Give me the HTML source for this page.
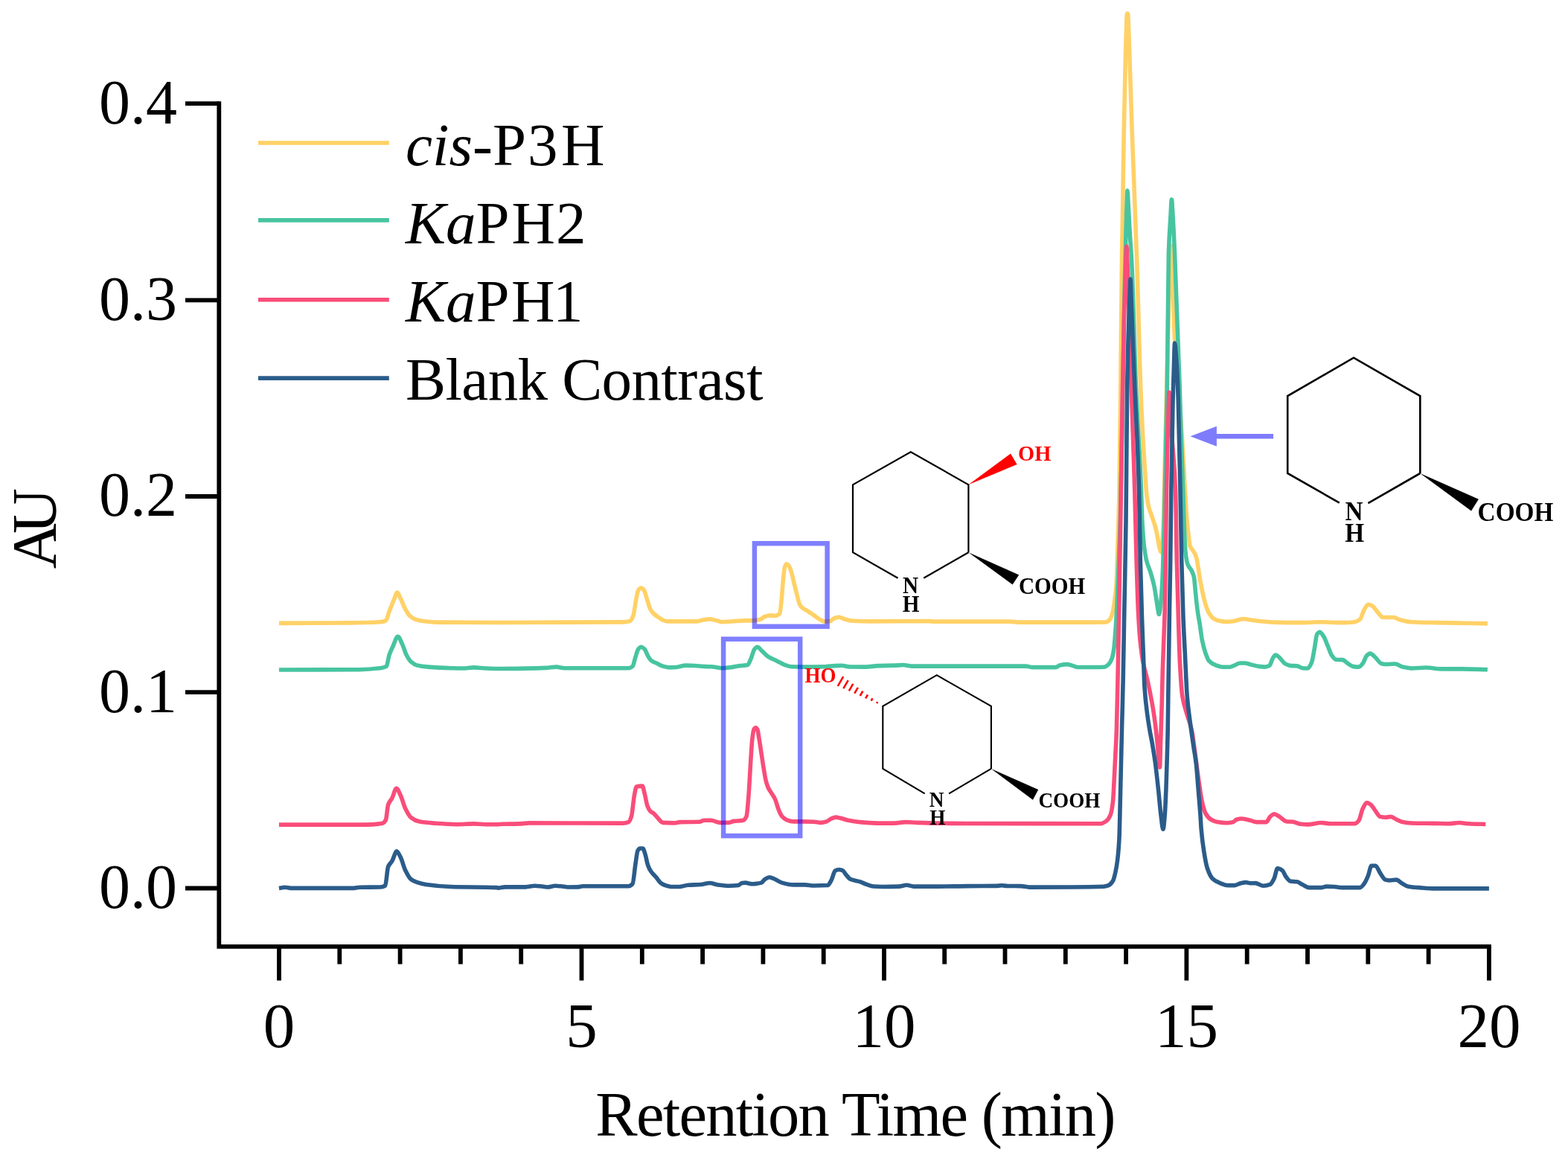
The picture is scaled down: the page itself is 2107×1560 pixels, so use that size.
<!DOCTYPE html>
<html lang="en"><head><meta charset="utf-8"><title>HPLC chromatogram</title>
<style>html,body{margin:0;padding:0;background:#fff}svg{display:block}text{font-family:"Liberation Serif","DejaVu Serif",serif;fill:#000}.b{font-weight:bold}.i{font-style:italic}</style></head><body>
<svg width="2107" height="1560" viewBox="0 0 2107 1560">
<rect width="2107" height="1560" fill="#fff"/>
<g fill="none" stroke-width="5.6" stroke-linejoin="round" stroke-linecap="butt">
<path stroke="#FFD166" d="M374.92 837.38C405.85 837.23 436.77 837.21 467.69 836.92C482.05 836.79 496.41 836.59 510.77 835.69C513.33 835.53 515.9 835.06 518.46 833.85C520 833.12 521.54 825.51 523.08 821.54C525.13 816.24 527.18 810.9 529.23 806.15C530.77 802.59 532.31 796.15 533.85 796.15C535.38 796.15 536.92 801.52 538.46 804.62C540.51 808.74 542.56 814.77 544.62 818.46C546.67 822.15 548.72 825.91 550.77 827.69C553.33 829.93 555.9 831.53 558.46 832.31C563.08 833.7 567.69 834.46 572.31 834.92C578.46 835.54 584.62 836.1 590.77 836.15C616.41 836.39 642.05 836.46 667.69 836.46C670.26 836.46 672.82 836.46 675.38 836.46C729.23 836.46 783.08 836.4 836.92 835.85C840 835.81 843.08 835.45 846.15 834.62C847.69 834.2 849.23 831.4 850.77 827.69C852.05 824.6 853.33 812.32 854.62 806.15C855.64 801.22 856.67 794.49 857.69 793.08C858.97 791.31 860.26 790 861.54 790C862.82 790 864.1 791.46 865.38 793.08C866.67 794.7 867.95 800.77 869.23 804.62C870.77 809.23 872.31 815.62 873.85 818.46C875.38 821.3 876.92 823.12 878.46 824.62C880.51 826.61 882.56 827.83 884.62 829.23C886.67 830.63 888.72 832.25 890.77 833.08C892.82 833.91 894.87 834.92 896.92 834.92C910.26 834.92 923.59 834.92 936.92 834.92C939.49 834.92 942.05 833.52 944.62 833.08C947.69 832.54 950.77 831.85 953.85 831.85C955.38 831.85 956.92 832.3 958.46 832.62C960 832.93 961.54 833.46 963.08 833.85C965.64 834.5 968.21 835.69 970.77 835.69C974.87 835.69 978.97 835.17 983.08 834.92C989.23 834.55 995.38 833.85 1001.54 833.85C1004.62 833.85 1007.69 833.85 1010.77 833.85C1014.36 833.85 1017.95 833.19 1021.54 832.31C1023.59 831.8 1025.64 829.1 1027.69 828.46C1030.26 827.67 1032.82 826.92 1035.38 826.92C1037.44 826.92 1039.49 827.38 1041.54 827.38C1043.59 827.38 1045.64 826.62 1047.69 824.62C1048.46 823.86 1049.23 814.69 1050 807.69C1050.77 800.69 1051.54 787.38 1052.31 780C1053.08 772.62 1053.85 763.66 1054.62 761.54C1055.38 759.42 1056.15 757.69 1056.92 757.69C1057.95 757.69 1058.97 758.82 1060 760C1061.03 761.18 1062.05 764.56 1063.08 767.69C1064.36 771.6 1065.64 777.95 1066.92 783.08C1068.21 788.21 1069.49 793.6 1070.77 798.46C1072.05 803.32 1073.33 810 1074.62 812.31C1075.9 814.62 1077.18 815.86 1078.46 816.92C1081.03 819.05 1083.59 819.88 1086.15 821.54C1088.72 823.2 1091.28 825.13 1093.85 826.92C1096.41 828.72 1098.97 830.91 1101.54 832.31C1103.59 833.42 1105.64 835.08 1107.69 835.08C1110.26 835.08 1112.82 834.91 1115.38 834.62C1117.44 834.38 1119.49 831.09 1121.54 830.46C1123.59 829.83 1125.64 829.23 1127.69 829.23C1129.74 829.23 1131.79 830.95 1133.85 831.54C1137.95 832.73 1142.05 834.11 1146.15 834.31C1154.36 834.71 1162.56 834.92 1170.77 834.92C1196.41 834.92 1222.05 834.62 1247.69 834.62C1250.26 834.62 1252.82 835.08 1255.38 835.08C1288.72 835.08 1322.05 835.08 1355.38 835.08C1360.51 835.08 1365.64 836.15 1370.77 836.15C1404.1 836.15 1437.44 836.15 1470.77 836.15C1475.85 836.15 1480.92 836.12 1486 836C1487.6 835.96 1489.2 834.61 1490.8 833C1492.33 831.46 1493.87 827.24 1495.4 821.5C1496.47 817.5 1497.53 808.49 1498.6 800C1499.07 796.28 1499.53 793.36 1500 787C1500.57 779.28 1501.13 758.06 1501.7 740.8C1502.47 717.45 1503.23 697.69 1504 660C1504.6 630.51 1505.2 572.56 1505.8 520C1506.37 470.36 1506.93 394.56 1507.5 350C1508.4 279.24 1509.3 228.52 1510.2 180C1510.9 142.26 1511.6 108.1 1512.3 80C1512.73 62.61 1513.17 45.03 1513.6 34C1513.83 28.06 1514.07 20.41 1514.3 19.5C1514.53 18.59 1514.77 18 1515 18C1515.23 18 1515.47 18.59 1515.7 19.5C1515.93 20.41 1516.17 28.5 1516.4 34C1516.93 46.58 1517.47 64.31 1518 80C1519.1 112.36 1520.2 148.64 1521.3 180C1523.43 240.82 1525.57 285.08 1527.7 350C1529.13 393.62 1530.57 457.1 1532 500C1532.57 516.96 1533.13 532.87 1533.7 546C1534.47 563.77 1535.23 578.38 1536 592C1536.97 609.18 1537.93 624.06 1538.9 638C1539.6 648.1 1540.3 660.12 1541 666C1541.77 672.44 1542.53 676.77 1543.3 680C1545.2 687.99 1547.1 691.01 1549 697C1550.5 701.73 1552 705.72 1553.5 712C1554.43 715.91 1555.37 722.18 1556.3 727C1557.03 730.79 1557.77 735.85 1558.5 738C1559.13 739.86 1559.77 742 1560.4 742C1561 742 1561.6 732.98 1562.2 725C1562.73 717.91 1563.27 705.5 1563.8 690C1564.47 670.62 1565.13 628.35 1565.8 600C1566.8 557.48 1567.8 517.71 1568.8 480C1569.73 444.8 1570.67 401.75 1571.6 380C1572.57 357.47 1573.53 330 1574.5 330C1575 330 1575.5 364.14 1576 380C1576.83 406.43 1577.67 439.19 1578.5 455C1580.17 486.62 1581.83 497.53 1583.5 520C1585.17 542.47 1586.83 563.97 1588.5 590C1589.83 610.83 1591.17 637.44 1592.5 660C1593.2 671.84 1593.9 685.83 1594.6 694.6C1595.37 704.2 1596.13 711.37 1596.9 717.7C1597.67 724.02 1598.43 731.74 1599.2 733.8C1600.73 737.93 1602.27 738.01 1603.8 740.8C1605.17 743.29 1606.53 745.34 1607.9 750C1608.67 752.62 1609.43 759.15 1610.2 763.8C1611.13 769.46 1612.07 775.84 1613 781C1614.17 787.46 1615.33 793.36 1616.5 798.5C1617.67 803.64 1618.83 808.69 1620 812.3C1621.53 817.04 1623.07 821.27 1624.6 823.8C1626.53 826.99 1628.47 829.56 1630.4 830.8C1633.1 832.53 1635.8 833.66 1638.5 834.2C1641.57 834.82 1644.63 835.4 1647.7 835.4C1650.8 835.4 1653.9 835.13 1657 834.8C1659.27 834.56 1661.53 833.54 1663.8 833C1666.13 832.45 1668.47 831.5 1670.8 831.5C1673.87 831.5 1676.93 832.57 1680 833C1683.5 833.5 1687 833.95 1690.5 834.3C1697.71 835.04 1704.93 835.91 1712.14 836.11C1724.16 836.43 1736.19 836.65 1748.21 836.65C1757.23 836.65 1766.25 835.75 1775.26 835.75C1784.28 835.75 1793.3 836.65 1802.32 836.65C1808.33 836.65 1814.34 836.37 1820.35 835.75C1822.76 835.5 1825.16 834.18 1827.57 832.14C1829.37 830.61 1831.17 822.58 1832.98 819.52C1834.78 816.46 1836.58 812.3 1838.39 812.3C1840.19 812.3 1841.99 813.2 1843.8 814.11C1846.2 815.31 1848.61 819.68 1851.01 822.22C1853.42 824.77 1855.82 829.44 1858.22 829.44C1863.03 829.44 1867.84 829.44 1872.65 829.44C1875.66 829.44 1878.66 832.25 1881.67 833.04C1886.48 834.31 1891.29 835.49 1896.1 835.75C1906.92 836.33 1917.74 836.44 1928.56 836.65C1940.59 836.88 1952.61 836.98 1964.63 837.19C1976.05 837.39 1987.48 837.67 1998.9 837.91"/>
<path stroke="#47C4A0" d="M374.92 900C410.97 899.9 447.03 899.93 483.08 899.69C492.31 899.63 501.54 898.87 510.77 897.69C513.59 897.33 516.41 897 519.23 895.38C520.51 894.65 521.79 883.81 523.08 880C524.62 875.43 526.15 872.56 527.69 869.23C530 864.23 532.31 855.38 534.62 855.38C536.67 855.38 538.72 861.86 540.77 866.15C542.56 869.91 544.36 876.58 546.15 880C548.21 883.91 550.26 887.44 552.31 889.23C554.87 891.46 557.44 893.19 560 893.85C565.13 895.16 570.26 895.75 575.38 896.15C585.64 896.97 595.9 897.41 606.15 897.69C611.28 897.83 616.41 898 621.54 898C626.67 898 631.79 896.92 636.92 896.92C642.05 896.92 647.18 897.78 652.31 898C657.44 898.22 662.56 898.46 667.69 898.46C670.26 898.46 672.82 898.46 675.38 898.46C685.64 898.46 695.9 898.31 706.15 898.15C715.38 898.02 724.62 897.8 733.85 897.38C738.46 897.18 743.08 896.15 747.69 896.15C751.28 896.15 754.87 897.69 758.46 897.69C787.18 897.69 815.9 897.69 844.62 897.69C846.41 897.69 848.21 896.8 850 895.38C851.28 894.37 852.56 886.91 853.85 883.08C855.13 879.25 856.41 873.9 857.69 872.31C858.97 870.71 860.26 869.23 861.54 869.23C863.08 869.23 864.62 870.77 866.15 872.31C867.69 873.85 869.23 879.08 870.77 881.54C872.31 884 873.85 886.53 875.38 887.69C877.95 889.63 880.51 890.31 883.08 891.54C885.64 892.77 888.21 894.35 890.77 895.08C893.85 895.95 896.92 896.92 900 896.92C903.08 896.92 906.15 896.7 909.23 896.46C913.33 896.15 917.44 894.15 921.54 894.15C926.67 894.15 931.79 894.52 936.92 894.77C942.05 895.02 947.18 895.69 952.31 895.69C953.33 895.69 954.36 895.69 955.38 895.69C960.51 895.69 965.64 897.69 970.77 897.69C974.87 897.69 978.97 897.11 983.08 896.62C986.67 896.18 990.26 895.08 993.85 894.62C997.44 894.15 1001.03 894.31 1004.62 893.54C1006.15 893.21 1007.69 888.06 1009.23 884.62C1010.77 881.17 1012.31 874.17 1013.85 872.31C1015.13 870.76 1016.41 869.23 1017.69 869.23C1019.49 869.23 1021.28 872.26 1023.08 873.85C1026.15 876.56 1029.23 880.29 1032.31 882.31C1036.41 885 1040.51 886.41 1044.62 888.46C1047.69 890 1050.77 891.96 1053.85 893.08C1056.92 894.19 1060 895.51 1063.08 895.69C1068.21 895.99 1073.33 896.15 1078.46 896.15C1088.72 896.15 1098.97 895.98 1109.23 895.69C1113.33 895.58 1117.44 894.81 1121.54 894.62C1124.62 894.47 1127.69 894.31 1130.77 894.31C1134.87 894.31 1138.97 895.94 1143.08 896C1149.74 896.1 1156.41 896.15 1163.08 896.15C1168.72 896.15 1174.36 894.82 1180 894.62C1187.18 894.36 1194.36 894.38 1201.54 894.15C1205.64 894.03 1209.74 893.54 1213.85 893.54C1217.44 893.54 1221.03 895.08 1224.62 895.08C1232.31 895.08 1240 895.08 1247.69 895.08C1250.26 895.08 1252.82 895.08 1255.38 895.08C1296.41 895.08 1337.44 895.08 1378.46 895.08C1381.54 895.08 1384.62 896.62 1387.69 896.62C1397.95 896.62 1408.21 896.62 1418.46 896.62C1420.51 896.62 1422.56 894.28 1424.62 893.85C1427.69 893.19 1430.77 892.62 1433.85 892.62C1436.92 892.62 1440 894.2 1443.08 895.08C1444.62 895.51 1446.15 896.46 1447.69 896.46C1455.38 896.46 1463.08 896.46 1470.77 896.46C1475.11 896.46 1479.46 896.39 1483.8 896.2C1485.73 896.11 1487.67 894.47 1489.6 892.7C1491.13 891.3 1492.67 888.74 1494.2 884.6C1495.07 882.26 1495.93 877.99 1496.8 872C1497.33 868.31 1497.87 861.39 1498.4 854.6C1499.13 845.26 1499.87 834.11 1500.6 820C1501.4 804.6 1502.2 780.43 1503 760C1503.77 740.42 1504.53 725.34 1505.3 700C1506.3 666.95 1507.3 614.27 1508.3 560C1509.03 520.2 1509.77 457.94 1510.5 420C1511.27 380.34 1512.03 349.11 1512.8 320C1513.27 302.28 1513.73 283.51 1514.2 272C1514.47 265.42 1514.73 256 1515 256C1515.33 256 1515.67 266.26 1516 272C1516.67 283.47 1517.33 298.61 1518 310C1518.87 324.8 1519.73 333.27 1520.6 350C1522.57 387.96 1524.53 473.33 1526.5 520C1528.83 575.38 1531.17 599.68 1533.5 660C1533.87 669.48 1534.23 686.81 1534.6 694.6C1535.37 710.88 1536.13 721.97 1536.9 729.2C1538.07 740.2 1539.23 747.35 1540.4 752.3C1542.33 760.5 1544.27 763.12 1546.2 769.6C1547.73 774.74 1549.27 779.8 1550.8 787C1551.77 791.54 1552.73 798.18 1553.7 804.2C1554.47 808.97 1555.23 815.04 1556 819.2C1556.43 821.55 1556.87 825.4 1557.3 825.4C1558.47 825.4 1559.63 811.94 1560.8 798.5C1561.4 791.59 1562 778.55 1562.6 763.8C1563.07 752.33 1563.53 736.03 1564 717.7C1564.4 701.99 1564.8 678.72 1565.2 660C1566.23 611.65 1567.27 582.37 1568.3 520C1569 477.75 1569.7 362.49 1570.4 340C1571.27 312.15 1572.13 304.84 1573 290C1573.47 282.01 1573.93 268 1574.4 268C1574.93 268 1575.47 281.42 1576 290C1576.83 303.4 1577.67 321.31 1578.5 340C1580.73 390.09 1582.97 452.29 1585.2 520C1585.9 541.22 1586.6 568.64 1587.3 590C1588.13 615.43 1588.97 634.61 1589.8 660C1590.27 674.22 1590.73 694.14 1591.2 706C1591.77 720.4 1592.33 735.33 1592.9 740.8C1593.87 750.14 1594.83 755.36 1595.8 758C1597.7 763.18 1599.6 763.27 1601.5 767.3C1602.47 769.35 1603.43 771.03 1604.4 775.4C1605 778.11 1605.6 786.77 1606.2 792.7C1606.77 798.3 1607.33 805.06 1607.9 810C1608.67 816.68 1609.43 822.43 1610.2 827.3C1610.8 831.11 1611.4 833.67 1612 837.3C1613.13 844.16 1614.27 854.83 1615.4 860.4C1616.93 867.93 1618.47 873.4 1620 877.7C1621.53 882 1623.07 886.39 1624.6 888C1627.67 891.22 1630.73 892.67 1633.8 893.8C1636.87 894.93 1639.93 896.2 1643 896.2C1646.1 896.2 1649.2 896.2 1652.3 896.2C1654.6 896.2 1656.9 894.66 1659.2 893.8C1661.53 892.93 1663.87 891 1666.2 891C1668.47 891 1670.73 891 1673 891C1675.33 891 1677.67 892.13 1680 892.7C1683.5 893.55 1687 894.77 1690.5 895.26C1693.5 895.69 1696.51 896.17 1699.52 896.17C1701.62 896.17 1703.72 895.47 1705.83 894.36C1707.33 893.57 1708.83 886.81 1710.34 884.44C1711.54 882.54 1712.74 879.93 1713.94 879.93C1715.75 879.93 1717.55 882.05 1719.35 883.54C1721.76 885.53 1724.16 890.3 1726.57 891.66C1728.97 893.01 1731.38 894.11 1733.78 894.36C1736.79 894.68 1739.79 894.6 1742.8 894.9C1745.81 895.21 1748.81 897.97 1751.82 897.97C1753.62 897.97 1755.42 897.97 1757.23 897.97C1759.03 897.97 1760.84 894.17 1762.64 889.85C1763.84 886.97 1765.04 878.12 1766.25 871.82C1767.45 865.52 1768.65 853.57 1769.85 851.98C1771.06 850.39 1772.26 849.27 1773.46 849.27C1775.26 849.27 1777.07 852.78 1778.87 855.59C1780.67 858.39 1782.48 864 1784.28 868.21C1786.08 872.42 1787.89 878.31 1789.69 880.84C1791.5 883.36 1793.3 886.1 1795.1 886.25C1798.11 886.5 1801.11 886.37 1804.12 886.61C1806.52 886.79 1808.93 890.18 1811.33 891.66C1813.74 893.14 1816.14 895.31 1818.55 895.62C1820.95 895.94 1823.36 896.17 1825.76 896.17C1827.57 896.17 1829.37 893.78 1831.17 891.66C1832.98 889.53 1834.78 882.47 1836.58 880.84C1838.09 879.47 1839.59 878.13 1841.09 878.13C1843.2 878.13 1845.3 880.9 1847.4 882.64C1850.41 885.12 1853.42 891.01 1856.42 891.66C1858.83 892.18 1861.23 892.56 1863.64 892.56C1867.24 892.56 1870.85 892.02 1874.46 892.02C1878.06 892.02 1881.67 895.41 1885.28 896.17C1889.49 897.05 1893.69 897.97 1897.9 897.97C1903.91 897.97 1909.93 897.07 1915.94 897.07C1923.15 897.07 1930.37 898.87 1937.58 898.87C1946.6 898.87 1955.61 898.87 1964.63 898.87C1976.05 898.87 1987.48 899.47 1998.9 899.77"/>
<path stroke="#F94D7A" d="M374.92 1108.15C413.54 1108.15 452.15 1108.15 490.77 1108.15C498.46 1108.15 506.15 1107.66 513.85 1106.15C515.38 1105.85 516.92 1104.34 518.46 1101.54C519.49 1099.67 520.51 1084.48 521.54 1081.54C523.33 1076.4 525.13 1075.83 526.92 1072.31C528.82 1068.59 530.72 1059.23 532.62 1059.23C534.56 1059.23 536.51 1065.13 538.46 1069.23C540.51 1073.55 542.56 1081.96 544.62 1086.15C547.18 1091.39 549.74 1096.45 552.31 1098.46C555.9 1101.28 559.49 1103.13 563.08 1103.85C569.74 1105.18 576.41 1105.68 583.08 1106.15C593.33 1106.89 603.59 1107.69 613.85 1107.69C621.54 1107.69 629.23 1106.92 636.92 1106.92C642.05 1106.92 647.18 1107.69 652.31 1107.69C657.44 1107.69 662.56 1107.69 667.69 1107.69C670.26 1107.69 672.82 1107.29 675.38 1107.23C683.08 1107.04 690.77 1107.12 698.46 1106.92C702.56 1106.82 706.67 1105.85 710.77 1105.85C752.82 1105.85 794.87 1106.15 836.92 1106.15C839.49 1106.15 842.05 1105.64 844.62 1104.62C845.9 1104.1 847.18 1100.94 848.46 1096.92C849.74 1092.91 851.03 1075.76 852.31 1069.23C853.33 1064.01 854.36 1057.15 855.38 1056.92C857.95 1056.34 860.51 1056.15 863.08 1056.15C864.1 1056.15 865.13 1062.34 866.15 1066.15C867.44 1070.92 868.72 1079.8 870 1083.08C871.28 1086.35 872.56 1088.73 873.85 1090C875.38 1091.52 876.92 1091.8 878.46 1093.08C880.51 1094.77 882.56 1097.98 884.62 1100C886.67 1102.02 888.72 1105.25 890.77 1105.38C895.9 1105.73 901.03 1105.85 906.15 1105.85C908.72 1105.85 911.28 1104.68 913.85 1104.62C922.56 1104.39 931.28 1104.55 940 1104.31C942.05 1104.25 944.1 1102.31 946.15 1102.31C949.23 1102.31 952.31 1102.31 955.38 1102.31C959.49 1102.31 963.59 1105.38 967.69 1105.38C971.28 1105.38 974.87 1105.38 978.46 1105.38C981.03 1105.38 983.59 1103.73 986.15 1103.38C990.26 1102.83 994.36 1103.08 998.46 1102.31C1000 1102.02 1001.54 1100.32 1003.08 1096.92C1004.1 1094.66 1005.13 1079.13 1006.15 1066.15C1006.92 1056.42 1007.69 1039.69 1008.46 1027.69C1009.23 1015.69 1010 1000.4 1010.77 993.85C1011.54 987.3 1012.31 981.32 1013.08 980C1013.85 978.68 1014.62 977.69 1015.38 977.69C1016.15 977.69 1016.92 978.7 1017.69 980C1018.46 981.3 1019.23 987.82 1020 992.31C1021.03 998.29 1022.05 1005.64 1023.08 1012.31C1024.1 1018.97 1025.13 1026.2 1026.15 1032.31C1027.18 1038.42 1028.21 1045.25 1029.23 1049.23C1030.26 1053.21 1031.28 1056.22 1032.31 1058.46C1033.85 1061.82 1035.38 1063.59 1036.92 1066.15C1038.46 1068.72 1040 1070.55 1041.54 1073.85C1043.08 1077.14 1044.62 1084 1046.15 1087.69C1047.69 1091.38 1049.23 1095.21 1050.77 1096.92C1052.82 1099.21 1054.87 1100.74 1056.92 1101.54C1060 1102.73 1063.08 1103.85 1066.15 1103.85C1070.26 1103.85 1074.36 1103.85 1078.46 1103.85C1083.59 1103.85 1088.72 1104.05 1093.85 1104.31C1096.92 1104.46 1100 1105.38 1103.08 1105.38C1105.64 1105.38 1108.21 1104.64 1110.77 1103.85C1112.82 1103.21 1114.87 1100.83 1116.92 1100C1118.97 1099.17 1121.03 1098.15 1123.08 1098.15C1125.13 1098.15 1127.18 1098.8 1129.23 1099.23C1132.82 1099.99 1136.41 1101.59 1140 1102.31C1145.13 1103.34 1150.26 1104.21 1155.38 1104.62C1165.64 1105.43 1175.9 1106.15 1186.15 1106.15C1191.28 1106.15 1196.41 1106.15 1201.54 1106.15C1206.67 1106.15 1211.79 1104.62 1216.92 1104.62C1222.05 1104.62 1227.18 1105.2 1232.31 1105.38C1241.54 1105.72 1250.77 1106.03 1260 1106.15C1273.33 1106.34 1286.67 1106.47 1300 1106.5C1359.73 1106.64 1419.47 1106.7 1479.2 1106.7C1481.53 1106.7 1483.87 1105.13 1486.2 1103.5C1488.13 1102.15 1490.07 1099.86 1492 1095.4C1493.13 1092.78 1494.27 1087.47 1495.4 1078C1495.97 1073.26 1496.53 1059.68 1497.1 1049.2C1497.67 1038.72 1498.23 1026.49 1498.8 1014.6C1499.33 1003.41 1499.87 995.29 1500.4 980C1500.93 964.71 1501.47 937.36 1502 912C1502.57 885.05 1503.13 852.49 1503.7 820C1504.57 770.31 1505.43 714.25 1506.3 660C1507.03 614.09 1507.77 558.89 1508.5 520C1509.23 481.11 1509.97 447.21 1510.7 420C1511.33 396.5 1511.97 377.17 1512.6 360C1513 349.16 1513.4 331 1513.8 331C1514.27 331 1514.73 348.67 1515.2 360C1515.97 378.61 1516.73 405.64 1517.5 430C1518.4 458.6 1519.3 491.25 1520.2 520C1521.73 568.98 1523.27 606.18 1524.8 660C1525.57 686.91 1526.33 725.93 1527.1 752C1527.87 778.07 1528.63 804.38 1529.4 820C1530.27 837.65 1531.13 851.04 1532 860C1533.33 873.78 1534.67 882.93 1536 890C1537.83 899.72 1539.67 903.89 1541.5 912C1543.83 922.32 1546.17 933.55 1548.5 947C1549.67 953.73 1550.83 961.21 1552 970C1553.13 978.54 1554.27 989.36 1555.4 1000C1556.43 1009.7 1557.47 1031 1558.5 1031C1558.83 1031 1559.17 1010.36 1559.5 1000C1560.07 982.39 1560.63 967.5 1561.2 947C1561.57 933.74 1561.93 913.09 1562.3 900.8C1562.87 881.81 1563.43 870.48 1564 854.6C1564.4 843.39 1564.8 835.79 1565.2 820C1565.57 805.53 1565.93 777.33 1566.3 752.3C1566.7 724.99 1567.1 683.45 1567.5 660C1568 630.69 1568.5 609.8 1569 590C1569.43 572.84 1569.87 557.6 1570.3 545C1570.53 538.21 1570.77 527 1571 527C1571.33 527 1571.67 539.46 1572 545C1573 561.62 1574 574.9 1575 590C1576.53 613.15 1578.07 620.11 1579.6 660C1580.17 674.74 1580.73 727.27 1581.3 752.3C1582.1 787.64 1582.9 814.39 1583.7 840C1584.27 858.14 1584.83 878.07 1585.4 889C1586.53 910.86 1587.67 928.06 1588.8 935.4C1590.73 947.92 1592.67 951.47 1594.6 958.5C1596.9 966.87 1599.2 970.85 1601.5 981.5C1603.07 988.75 1604.63 1003.2 1606.2 1014.6C1607.73 1025.76 1609.27 1038.72 1610.8 1049.2C1612.33 1059.68 1613.87 1071.42 1615.4 1078C1616.93 1084.58 1618.47 1090.32 1620 1093C1622.33 1097.08 1624.67 1099.61 1627 1101C1630.07 1102.83 1633.13 1104.08 1636.2 1104.6C1640.03 1105.25 1643.87 1105.8 1647.7 1105.8C1650.8 1105.8 1653.9 1105.34 1657 1104.6C1658.5 1104.24 1660 1101.64 1661.5 1101.2C1663.83 1100.52 1666.17 1100 1668.5 1100C1670.8 1100 1673.1 1100.73 1675.4 1101.2C1676.93 1101.51 1678.47 1101.92 1680 1102.3C1682.9 1103.02 1685.8 1104.6 1688.69 1104.6C1692.9 1104.6 1697.11 1104.6 1701.32 1104.6C1703.12 1104.6 1704.93 1098.99 1706.73 1097.39C1708.53 1095.79 1710.34 1093.78 1712.14 1093.78C1714.55 1093.78 1716.95 1096 1719.35 1097.39C1722.36 1099.13 1725.37 1103.37 1728.37 1103.7C1731.38 1104.03 1734.38 1103.95 1737.39 1104.24C1741 1104.59 1744.6 1106.96 1748.21 1107.31C1751.22 1107.6 1754.22 1107.85 1757.23 1107.85C1763.24 1107.85 1769.25 1105.51 1775.26 1105.51C1779.47 1105.51 1783.68 1106.77 1787.89 1106.77C1798.71 1106.77 1809.53 1106.77 1820.35 1106.77C1822.15 1106.77 1823.96 1104.93 1825.76 1102.8C1827.57 1100.67 1829.37 1090.18 1831.17 1086.57C1832.98 1082.96 1834.78 1078.45 1836.58 1078.45C1838.39 1078.45 1840.19 1079.85 1841.99 1081.16C1843.8 1082.47 1845.6 1086.04 1847.4 1088.37C1849.81 1091.48 1852.21 1096.84 1854.62 1097.39C1857.02 1097.94 1859.43 1098.29 1861.83 1098.29C1864.24 1098.29 1866.64 1097.39 1869.05 1097.39C1871.45 1097.39 1873.86 1099.86 1876.26 1101C1878.66 1102.14 1881.07 1103.7 1883.47 1104.24C1887.68 1105.2 1891.89 1105.95 1896.1 1106.05C1906.92 1106.3 1917.74 1106.25 1928.56 1106.41C1934.57 1106.5 1940.59 1106.77 1946.6 1106.77C1951.41 1106.77 1956.22 1105.51 1961.03 1105.51C1965.23 1105.51 1969.44 1106.55 1973.65 1106.77C1981.22 1107.15 1988.8 1107.25 1996.37 1107.49"/>
<path stroke="#2B5C8A" d="M374.92 1193.38C377.64 1193.03 380.36 1192.31 383.08 1192.31C385.64 1192.31 388.21 1193.38 390.77 1193.38C418.97 1193.38 447.18 1193.38 475.38 1193.38C477.95 1193.38 480.51 1192.37 483.08 1192.31C492.31 1192.08 501.54 1192.24 510.77 1192C513.08 1191.94 515.38 1191.4 517.69 1190C518.97 1189.22 520.26 1167.74 521.54 1164.62C523.33 1160.24 525.13 1159.98 526.92 1156.92C528.97 1153.43 531.03 1143.85 533.08 1143.85C534.87 1143.85 536.67 1148.74 538.46 1152.31C540.51 1156.39 542.56 1165.04 544.62 1169.23C547.18 1174.47 549.74 1179.58 552.31 1181.54C554.87 1183.49 557.44 1184.51 560 1185.38C564.1 1186.79 568.21 1187.87 572.31 1188.46C583.59 1190.08 594.87 1191.18 606.15 1191.54C626.67 1192.18 647.18 1191.67 667.69 1192.62C668.21 1192.64 668.72 1193.08 669.23 1193.08C672.31 1193.08 675.38 1191.85 678.46 1191.85C687.69 1191.85 696.92 1191.85 706.15 1191.85C710.26 1191.85 714.36 1190.31 718.46 1190.31C721.03 1190.31 723.59 1190.56 726.15 1190.77C729.23 1191.02 732.31 1192 735.38 1192C738.97 1192 742.56 1190.31 746.15 1190.31C748.72 1190.31 751.28 1190.56 753.85 1190.77C756.92 1191.02 760 1192 763.08 1192C767.69 1192 772.31 1191.95 776.92 1191.85C778.97 1191.8 781.03 1190.77 783.08 1190.77C803.59 1190.77 824.1 1190.77 844.62 1190.77C846.41 1190.77 848.21 1189.68 850 1187.69C851.28 1186.27 852.56 1169.69 853.85 1161.54C854.87 1155.02 855.9 1144.84 856.92 1143.08C857.95 1141.32 858.97 1140 860 1140C861.28 1140 862.56 1140 863.85 1140C864.87 1140 865.9 1144.56 866.92 1147.69C868.21 1151.6 869.49 1159.66 870.77 1163.08C872.05 1166.5 873.33 1168.89 874.62 1170.77C876.92 1174.16 879.23 1175.74 881.54 1178.46C883.59 1180.88 885.64 1184.59 887.69 1186.15C889.74 1187.72 891.79 1188.88 893.85 1189.54C896.92 1190.52 900 1191.54 903.08 1191.54C906.15 1191.54 909.23 1191.54 912.31 1191.54C916.41 1191.54 920.51 1189.54 924.62 1189.23C930.26 1188.8 935.9 1188.87 941.54 1188.46C945.64 1188.16 949.74 1186.46 953.85 1186.46C957.44 1186.46 961.03 1188.45 964.62 1188.92C969.74 1189.6 974.87 1190.31 980 1190.31C984.1 1190.31 988.21 1190.07 992.31 1189.54C993.85 1189.34 995.38 1186.65 996.92 1186.46C998.46 1186.28 1000 1186.15 1001.54 1186.15C1004.62 1186.15 1007.69 1187.69 1010.77 1187.69C1014.87 1187.69 1018.97 1187.19 1023.08 1186.15C1024.62 1185.77 1026.15 1182.51 1027.69 1181.54C1029.74 1180.24 1031.79 1178.77 1033.85 1178.77C1036.41 1178.77 1038.97 1180.47 1041.54 1181.54C1044.62 1182.82 1047.69 1185.31 1050.77 1186.15C1055.9 1187.57 1061.03 1188.92 1066.15 1188.92C1071.28 1188.92 1076.41 1188.92 1081.54 1188.92C1085.64 1188.92 1089.74 1190 1093.85 1190C1100 1190 1106.15 1189.91 1112.31 1189.54C1113.85 1189.44 1115.38 1185.79 1116.92 1183.08C1118.72 1179.91 1120.51 1171.03 1122.31 1170C1123.85 1169.12 1125.38 1168.46 1126.92 1168.46C1128.72 1168.46 1130.51 1168.91 1132.31 1169.54C1133.85 1170.08 1135.38 1173.66 1136.92 1175.38C1138.97 1177.69 1141.03 1180.66 1143.08 1181.54C1147.18 1183.3 1151.28 1183.32 1155.38 1184.62C1158.46 1185.59 1161.54 1187.42 1164.62 1188.46C1167.69 1189.5 1170.77 1190.87 1173.85 1191.08C1177.95 1191.36 1182.05 1191.54 1186.15 1191.54C1193.33 1191.54 1200.51 1191.38 1207.69 1191.08C1211.28 1190.93 1214.87 1189.23 1218.46 1189.23C1221.54 1189.23 1224.62 1191.08 1227.69 1191.08C1238.46 1191.08 1249.23 1191.08 1260 1191.08C1273.33 1191.08 1286.67 1190.7 1300 1190.6C1312.67 1190.51 1325.33 1190.55 1338 1190.4C1340.67 1190.37 1343.33 1189.8 1346 1189.8C1348.67 1189.8 1351.33 1190.47 1354 1190.5C1360 1190.57 1366 1190.53 1372 1190.6C1375.67 1190.64 1379.33 1192.1 1383 1192.1C1402 1192.1 1421 1192.06 1440 1192C1454.23 1191.95 1468.47 1191.85 1482.7 1191.3C1485 1191.21 1487.3 1190.53 1489.6 1189.6C1491.53 1188.82 1493.47 1186.93 1495.4 1183.8C1496.53 1181.96 1497.67 1177.23 1498.8 1172.3C1499.77 1168.1 1500.73 1162.94 1501.7 1155C1502.47 1148.7 1503.23 1141.36 1504 1126C1504.4 1117.99 1504.8 1096.19 1505.2 1080C1505.97 1048.97 1506.73 1011.88 1507.5 980C1508.07 956.44 1508.63 938.78 1509.2 912C1509.73 886.79 1510.27 849.9 1510.8 820C1511.53 778.89 1512.27 756.35 1513 700C1513.3 676.95 1513.6 631.55 1513.9 600C1514.17 571.96 1514.43 537.26 1514.7 520C1515.3 481.16 1515.9 459.85 1516.5 440C1517 423.46 1517.5 412.88 1518 400C1518.33 391.42 1518.67 375 1519 375C1519.33 375 1519.67 391.67 1520 400C1520.67 416.67 1521.33 433.33 1522 450C1522.93 473.33 1523.87 497.03 1524.8 520C1526.73 567.58 1528.67 590.61 1530.6 660C1531.17 680.34 1531.73 727.5 1532.3 752C1533.03 783.7 1533.77 807.86 1534.5 830C1535.1 848.11 1535.7 861.62 1536.3 877.7C1536.87 892.89 1537.43 915.11 1538 923.8C1539.17 941.7 1540.33 949.28 1541.5 958.5C1542.67 967.72 1543.83 974.66 1545 981.5C1546.17 988.34 1547.33 993.21 1548.5 1000C1549.83 1007.76 1551.17 1016.08 1552.5 1026C1553.83 1035.92 1555.17 1048.44 1556.5 1060.8C1557.67 1071.61 1558.83 1086.32 1560 1095.4C1560.97 1102.92 1561.93 1114.2 1562.9 1114.2C1563.67 1114.2 1564.43 1104.54 1565.2 1095.4C1565.77 1088.65 1566.33 1075.06 1566.9 1060.8C1567.27 1051.57 1567.63 1038.69 1568 1026C1568.4 1012.15 1568.8 1000.98 1569.2 980C1569.4 969.51 1569.6 949.7 1569.8 935.4C1570.37 894.9 1570.93 854.73 1571.5 820C1571.9 795.48 1572.3 779.36 1572.7 752.3C1573.07 727.49 1573.43 684.83 1573.8 660C1574.53 610.35 1575.27 569.89 1576 540C1576.5 519.62 1577 505.44 1577.5 490C1577.83 479.71 1578.17 461 1578.5 461C1579.07 461 1579.63 469.77 1580.2 476C1580.67 481.13 1581.13 487.49 1581.6 496C1582.17 506.34 1582.73 521.83 1583.3 540C1584.2 568.87 1585.1 615.67 1586 660C1586.57 687.91 1587.13 728.42 1587.7 752.3C1588.47 784.61 1589.23 810.3 1590 830C1590.77 849.7 1591.53 862.12 1592.3 877.7C1593.27 897.35 1594.23 923.49 1595.2 935.4C1596.53 951.82 1597.87 959.52 1599.2 970C1600.73 982.05 1602.27 992.5 1603.8 1003C1604.97 1010.99 1606.13 1016 1607.3 1026C1608.27 1034.28 1609.23 1049.03 1610.2 1060.8C1611.13 1072.17 1612.07 1082.16 1613 1095.4C1613.4 1101.08 1613.8 1110 1614.2 1114.6C1615.37 1128.01 1616.53 1136.15 1617.7 1143.5C1619.23 1153.16 1620.77 1161.97 1622.3 1166.5C1624.6 1173.3 1626.9 1178.15 1629.2 1180.4C1632.3 1183.43 1635.4 1184.94 1638.5 1186.2C1642.33 1187.76 1646.17 1189.6 1650 1189.6C1653.07 1189.6 1656.13 1189.6 1659.2 1189.6C1661.9 1189.6 1664.6 1187.29 1667.3 1186.7C1669.6 1186.2 1671.9 1185.6 1674.2 1185.6C1676.13 1185.6 1678.07 1186.7 1680 1186.7C1682.3 1186.7 1684.59 1186.66 1686.89 1186.66C1690.5 1186.66 1694.11 1190.27 1697.71 1190.27C1700.72 1190.27 1703.72 1189.6 1706.73 1188.47C1708.53 1187.79 1710.34 1184 1712.14 1180.35C1713.64 1177.31 1715.15 1166.82 1716.65 1166.82C1718.75 1166.82 1720.86 1168.07 1722.96 1169.53C1724.77 1170.78 1726.57 1176.29 1728.37 1178.55C1730.18 1180.8 1731.98 1183.61 1733.78 1183.96C1736.79 1184.54 1739.79 1184.35 1742.8 1184.86C1745.2 1185.27 1747.61 1187.31 1750.01 1188.47C1753.02 1189.91 1756.03 1192.62 1759.03 1192.62C1764.44 1192.62 1769.85 1192.62 1775.26 1192.62C1777.67 1192.62 1780.07 1191.17 1782.48 1191.17C1786.08 1191.17 1789.69 1191.34 1793.3 1191.53C1796.3 1191.69 1799.31 1192.62 1802.32 1192.62C1810.73 1192.62 1819.15 1192.62 1827.57 1192.62C1829.37 1192.62 1831.17 1189.86 1832.98 1187.57C1834.78 1185.27 1836.58 1181.1 1838.39 1176.74C1839.89 1173.12 1841.39 1163.22 1842.9 1163.22C1844.7 1163.22 1846.5 1163.22 1848.31 1163.22C1850.41 1163.22 1852.51 1170.2 1854.62 1173.14C1857.02 1176.49 1859.43 1181.47 1861.83 1182.15C1863.64 1182.67 1865.44 1183.06 1867.24 1183.06C1870.25 1183.06 1873.25 1182.15 1876.26 1182.15C1878.66 1182.15 1881.07 1185.32 1883.47 1186.66C1886.48 1188.34 1889.49 1190.64 1892.49 1191.17C1897.3 1192.02 1902.11 1192.25 1906.92 1192.62C1914.13 1193.16 1921.35 1193.88 1928.56 1193.88C1952.67 1193.88 1976.78 1193.88 2000.88 1193.88"/>
</g>
<g stroke="#000" stroke-width="5.8" fill="none" stroke-linecap="butt">
<path d="M294.3 136.3 V1271.8 H2003.8"/>
<path d="M249 1193.5 H294.3 M249 930.2 H294.3 M249 667 H294.3 M249 403.4 H294.3 M249 139.2 H294.3 M375 1271.8 V1317.4 M456.3 1271.8 V1295.5 M537.6 1271.8 V1295.5 M618.9 1271.8 V1295.5 M700.2 1271.8 V1295.5 M781.5 1271.8 V1317.4 M862.8 1271.8 V1295.5 M944.1 1271.8 V1295.5 M1025.4 1271.8 V1295.5 M1106.7 1271.8 V1295.5 M1188 1271.8 V1317.4 M1269.2 1271.8 V1295.5 M1350.5 1271.8 V1295.5 M1431.8 1271.8 V1295.5 M1513.1 1271.8 V1295.5 M1594.4 1271.8 V1317.4 M1675.7 1271.8 V1295.5 M1757 1271.8 V1295.5 M1838.3 1271.8 V1295.5 M1919.6 1271.8 V1295.5 M2000.9 1271.8 V1317.4"/>
</g>
<g font-size="84">
<text x="238" y="1219.9" text-anchor="end">0.0</text>
<text x="238" y="956.6" text-anchor="end">0.1</text>
<text x="238" y="693.4" text-anchor="end">0.2</text>
<text x="238" y="429.8" text-anchor="end">0.3</text>
<text x="238" y="165.6" text-anchor="end">0.4</text>
<text x="375" y="1407.1" font-size="85" text-anchor="middle">0</text>
<text x="781.5" y="1407.1" font-size="85" text-anchor="middle">5</text>
<text x="1188" y="1407.1" font-size="85" text-anchor="middle">10</text>
<text x="1594.4" y="1407.1" font-size="85" text-anchor="middle">15</text>
<text x="2000.9" y="1407.1" font-size="85" text-anchor="middle">20</text>
</g>
<text x="800.3" y="1526.4" font-size="84.5" style="letter-spacing:-1.75px">Retention Time (min)</text>
<text transform="translate(75 710.1) rotate(-90)" font-size="84.5" text-anchor="middle" dx="0 -14">AU</text>
<path d="M347 192 H522.8" stroke="#FFD166" stroke-width="5.6" fill="none"/>
<text x="545" y="221.5" font-size="81"><tspan class="i">cis</tspan><tspan dx="0 0 2 4.5">-P3H</tspan></text>
<path d="M347 295.9 H522.8" stroke="#47C4A0" stroke-width="5.6" fill="none"/>
<text x="545" y="327" font-size="81"><tspan class="i">Ka</tspan><tspan dx="0 3 1">PH2</tspan></text>
<path d="M347 402.7 H522.8" stroke="#F94D7A" stroke-width="5.6" fill="none"/>
<text x="545" y="431.7" font-size="81"><tspan class="i">Ka</tspan><tspan dx="0 2.5 -2.5">PH1</tspan></text>
<path d="M347 508.1 H522.8" stroke="#2B5C8A" stroke-width="5.6" fill="none"/>
<text x="545" y="536.7" font-size="81" style="letter-spacing:-0.6px">Blank Contrast</text>
<g fill="none" stroke="#0000FF" stroke-opacity="0.5" stroke-width="6.5">
<rect x="1013.9" y="730.2" width="97.7" height="111.6"/>
<rect x="972.1" y="858.7" width="103.1" height="264.4"/>
</g>
<g fill="#7E7CFB" stroke="none">
<path d="M1599.5 586.2 L1634.9 572.7 V582.9 H1711 V589.6 H1634.9 V599.7 Z"/>
</g>
<g stroke="#000" stroke-width="2.2" fill="none" stroke-linejoin="miter" stroke-linecap="butt">
<path d="M1206.5 776.8 L1146 742.2 L1146 651.3 L1223.8 607.2 L1301.4 651.3 L1301.4 742.2 M1301.4 742.2 L1241.2 776.8"/>
</g>
<path d="M1301.4 742.2 L1369.2 772.5 L1360.6 785.5 Z" fill="#000"/>
<text class="b" transform="translate(1369 797.5) scale(1 1.07)" font-size="29.2">COOH</text>
<text class="b" transform="translate(1223.6 796.8) scale(1 1.07)" font-size="29.2" text-anchor="middle">N</text>
<text class="b" transform="translate(1224.2 821.9) scale(1 1.07)" font-size="29.2" text-anchor="middle">H</text>
<path d="M1301.4 651.3 L1358 609.5 L1366.6 624 Z" fill="#FF0000"/><text class="b" transform="translate(1368 618.5) scale(1 1.07)" font-size="28.5" style="fill:#FF0000">OH</text>
<g stroke="#000" stroke-width="2.1" fill="none" stroke-linejoin="miter" stroke-linecap="butt">
<path d="M1242.7 1066.3 L1186.3 1032.9 L1186.3 948.9 L1258.8 907.2 L1331.9 948.9 L1331.9 1032.9 M1331.9 1032.9 L1275.1 1066.3"/>
</g>
<path d="M1331.9 1032.9 L1395.2 1061.1 L1387.9 1074.7 Z" fill="#000"/>
<text class="b" transform="translate(1395.4 1085) scale(1 1.07)" font-size="27.2">COOH</text>
<text class="b" transform="translate(1258.5 1084) scale(1 1.07)" font-size="27.2" text-anchor="middle">N</text>
<text class="b" transform="translate(1259.8 1108) scale(1 1.07)" font-size="27.2" text-anchor="middle">H</text>
<path d="M1178.1 945 L1179.1 943.2 M1170.6 941.7 L1172.5 938.4 M1163.2 938.3 L1166 933.5 M1155.7 935 L1159.4 928.6 M1148.2 931.7 L1152.9 923.8 M1140.8 928.4 L1146.3 918.9 M1133.3 925.1 L1139.7 914.1 M1125.8 921.8 L1133.2 909.2" stroke="#FF0000" stroke-width="2.6" fill="none"/><text class="b" transform="translate(1081.5 917.4) scale(1 1.07)" font-size="27" style="fill:#FF0000">HO</text>
<g stroke="#000" stroke-width="2.6" fill="none" stroke-linejoin="miter" stroke-linecap="butt">
<path d="M1799.8 675.6 L1730.2 636 L1730.2 532.1 L1819 480.7 L1908.3 532.1 L1908.3 636 M1908.3 636 L1838.4 676.2"/>
</g>
<path d="M1908.3 636 L1986.9 670.7 L1977 686.5 Z" fill="#000"/>
<text class="b" transform="translate(1985.6 700.2) scale(1 1.07)" font-size="33.3">COOH</text>
<text class="b" transform="translate(1819.6 699.4) scale(1 1.07)" font-size="33.3" text-anchor="middle">N</text>
<text class="b" transform="translate(1820.2 728.1) scale(1 1.07)" font-size="33.3" text-anchor="middle">H</text>

</svg></body></html>
